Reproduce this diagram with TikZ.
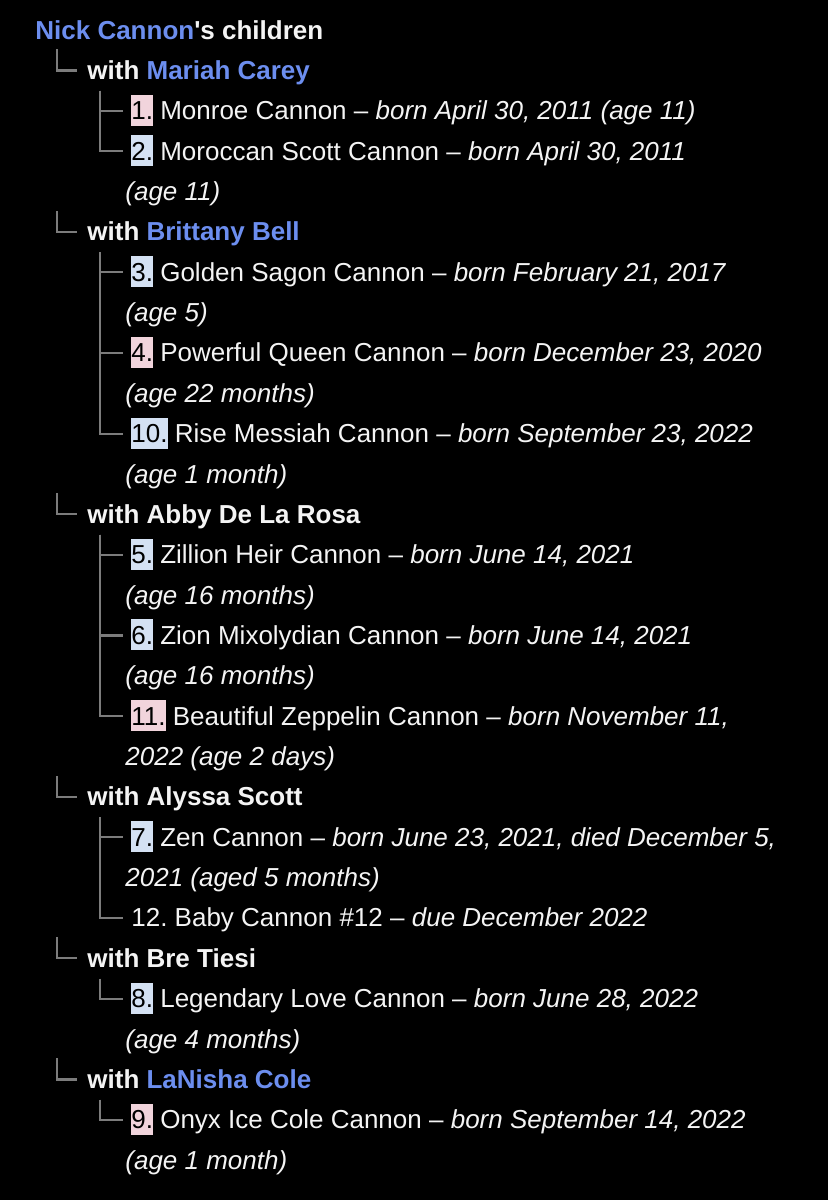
\documentclass[tikz,border=0pt]{standalone}
\usepackage{fontspec}
\setmainfont{Liberation Sans}
\frenchspacing

\definecolor{linkblue}{RGB}{108,142,239}
\definecolor{hlpink}{RGB}{241,212,220}
\definecolor{hlblue}{RGB}{212,225,243}
\definecolor{treegray}{RGB}{124,124,124}
\definecolor{offwhite}{RGB}{244,244,244}
\newcommand{\numbox}[2]{{\setlength{\fboxsep}{0pt}\colorbox{#1}{\color{black}\rule[-3pt]{0pt}{15.5pt}#2}}}

\begin{document}
\begin{tikzpicture}[x=0.5pt, y=-0.5pt]
\tikzstyle{every node} = [font=\fontsize{13}{16}\selectfont, text=offwhite, inner sep=0pt, anchor=west, text height=9pt, text depth=0pt]
\tikzstyle{tree} = [draw=treegray, line width=1.1pt]
\fill[black] (0,0) rectangle (828,1200);
\useasboundingbox (0,0) rectangle (828,1200);

\node (root) at (35,30) {\bfseries\textcolor{linkblue}{Nick Cannon}\textquotesingle s children};

% Mariah Carey
\coordinate (cMC) at (57,49.4);
\node (wMC) at (87,70.4) {\bfseries with \textcolor{linkblue}{Mariah Carey}};
\coordinate (sMC) at (100,90.7);
\node (k1) at (131,110.7) {\numbox{hlpink}{1.} Monroe Cannon – \textit{born April 30, 2011 (age 11)}};
\node (k2) at (131,151.1) {\numbox{hlblue}{2.} Moroccan Scott Cannon – \textit{born April 30, 2011}};
\node (a2) at (125,191.4) {\textit{(age 11)}};

% Brittany Bell
\coordinate (cBB) at (57,210.8);
\node (wBB) at (87,231.8) {\bfseries with \textcolor{linkblue}{Brittany Bell}};
\coordinate (sBB) at (100,252.2);
\node (k3) at (131,272.2) {\numbox{hlblue}{3.} Golden Sagon Cannon – \textit{born February 21, 2017}};
\node (a3) at (125,312.5) {\textit{(age 5)}};
\node (k4) at (131,352.9) {\numbox{hlpink}{4.} Powerful Queen Cannon – \textit{born December 23, 2020}};
\node (a4) at (125,393.2) {\textit{(age 22 months)}};
\node (k10) at (131,433.6) {\numbox{hlblue}{10.} Rise Messiah Cannon – \textit{born September 23, 2022}};
\node (a10) at (125,474.0) {\textit{(age 1 month)}};

% Abby De La Rosa
\coordinate (cAD) at (57,493.3);
\node (wAD) at (87,514.3) {\bfseries with Abby De La Rosa};
\coordinate (sAD) at (100,534.7);
\node (k5) at (131,554.7) {\numbox{hlblue}{5.} Zillion Heir Cannon – \textit{born June 14, 2021}};
\node (a5) at (125,595.0) {\textit{(age 16 months)}};
\node (k6) at (131,635.4) {\numbox{hlblue}{6.} Zion Mixolydian Cannon – \textit{born June 14, 2021}};
\node (a6) at (125,675.8) {\textit{(age 16 months)}};
\node (k11) at (131,716.1) {\numbox{hlpink}{11.} Beautiful Zeppelin Cannon – \textit{born November 11,}};
\node (a11) at (125,756.5) {\textit{2022 (age 2 days)}};

% Alyssa Scott
\coordinate (cAS) at (57,775.8);
\node (wAS) at (87,796.8) {\bfseries with Alyssa Scott};
\coordinate (sAS) at (100,817.2);
\node (k7) at (131,837.2) {\numbox{hlblue}{7.} Zen Cannon – \textit{born June 23, 2021, died December 5,}};
\node (a7) at (125,877.6) {\textit{2021 (aged 5 months)}};
\node (k12) at (131,917.9) {12. Baby Cannon \#12 – \textit{due December 2022}};

% Bre Tiesi
\coordinate (cBT) at (57,937.3);
\node (wBT) at (87,958.3) {\bfseries with Bre Tiesi};
\coordinate (sBT) at (100,978.6);
\node (k8) at (131,998.6) {\numbox{hlblue}{8.} Legendary Love Cannon – \textit{born June 28, 2022}};
\node (a8) at (125,1039.0) {\textit{(age 4 months)}};

% LaNisha Cole
\coordinate (cLC) at (57,1058.4);
\node (wLC) at (87,1079.4) {\bfseries with \textcolor{linkblue}{LaNisha Cole}};
\coordinate (sLC) at (100,1099.7);
\node (k9) at (131,1119.7) {\numbox{hlpink}{9.} Onyx Ice Cole Cannon – \textit{born September 14, 2022}};
\node (a9) at (125,1160.1) {\textit{(age 1 month)}};

\foreach \g in {MC,BB,AD,AS,BT,LC}
    \draw[tree, shorten >=5pt] (c\g) |- (w\g.west); %mother rows
\foreach \g/\kids in {MC/{1,2},BB/{3,4,10},AD/{5,6,11},AS/{7,12},BT/{8},LC/{9}}
{
    \foreach \k in \kids
        \draw[tree, shorten >=4pt] (s\g) |- (k\k.west); %child rows
}
\end{tikzpicture}
\end{document}
